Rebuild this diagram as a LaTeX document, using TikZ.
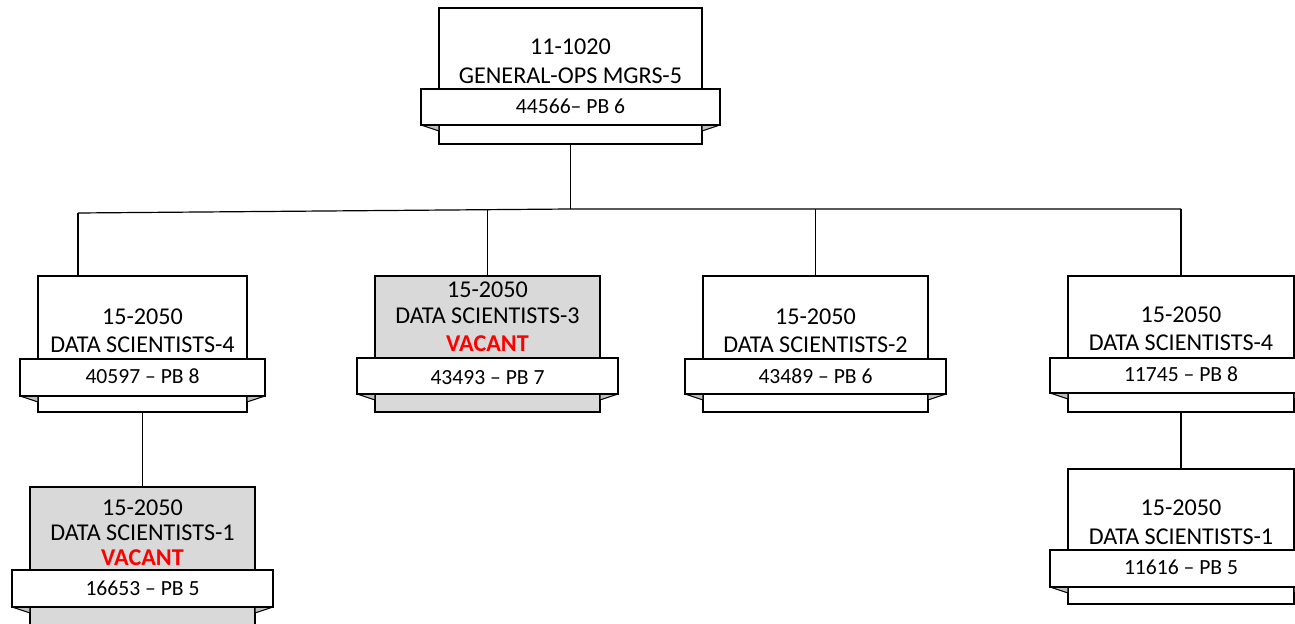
\documentclass[tikz,border=0pt]{standalone}
\usepackage{fontspec}
\setmainfont{Carlito}
\usetikzlibrary{fit}
\definecolor{boxgrey}{HTML}{D9D9D9}
\definecolor{foldgrey}{HTML}{BFBFBF}
\definecolor{vred}{HTML}{FF0000}
\tikzset{
 rectbox/.style={draw=black, line width=1.1pt, inner sep=0pt},
 ribbonbox/.style={draw=black, fill=white, line width=1.1pt, inner sep=0pt},
 foldtri/.style={draw=black, fill=foldgrey, line width=0.8pt, line join=round},
 maintxt/.style={font=\fontsize{18.1}{21}\selectfont, inner sep=0pt, anchor=base},
 ribtxt/.style={font=\fontsize{16.2}{19}\selectfont, inner sep=0pt, anchor=base},
 vactxt/.style={inner sep=0pt, anchor=base, font=\fontsize{18.1}{21}\selectfont\bfseries, text=vred},
 conn/.style={draw=black, line width=0.9pt},
}
% name, x1, y1, x2, y2, ribbon y1, ribbon y2, fill
\newcommand{\orgbox}[8]{%
 \node[rectbox, fill=#8, fit={(#2,#3) (#4,#5)}] (#1) {};
 \filldraw[foldtri] ({#2-18},#7) -- (#2,#7) -- (#2,{#7+6}) -- cycle;
 \filldraw[foldtri] ({#4+18},#7) -- (#4,#7) -- (#4,{#7+6}) -- cycle;
 \node[ribbonbox, fit={({#2-18},#6) ({#4+18},#7)}] (#1r) {};
}
\begin{document}
\begin{tikzpicture}[x=0.75pt, y=-0.75pt]
\useasboundingbox (0,0) rectangle (1295,624);
\clip (0,0) rectangle (1295,624);

\orgbox{top}{439}{8}{702}{144}{89}{125}{white}
\orgbox{b1}{38}{276}{247}{412}{359}{396}{white}
\orgbox{b2}{375}{276}{600}{412}{358}{394}{boxgrey}
\orgbox{b3}{703}{276}{928}{412}{359}{394}{white}
\orgbox{b4}{1068}{276}{1294}{412}{358}{393}{white}
\orgbox{b5}{30}{487}{255}{660}{570}{607}{boxgrey}
\orgbox{b6}{1068}{469}{1294}{604}{550}{587}{white}

% texts
\node[maintxt] (topa) at (570.5,54.7) {11-1020};
\node[maintxt] (topb) at (570.5,83.7) {GENERAL-OPS MGRS-5};
\node[ribtxt] (topc) at (570.5,113.9) {44566– PB 6};

\node[maintxt] (b1a) at (142.5,324.7) {15-2050};
\node[maintxt] (b1b) at (142.5,352.7) {DATA SCIENTISTS-4};
\node[ribtxt] (b1c) at (142.5,383.9) {40597 – PB 8};

\node[maintxt] (b2a) at (487.5,297.7) {15-2050};
\node[maintxt] (b2b) at (487.5,323.7) {DATA SCIENTISTS-3};
\node[vactxt] (b2v) at (487.5,351.7) {VACANT};
\node[ribtxt] (b2c) at (487.5,384.9) {43493 – PB 7};

\node[maintxt] (b3a) at (815.5,324.7) {15-2050};
\node[maintxt] (b3b) at (815.5,352.7) {DATA SCIENTISTS-2};
\node[ribtxt] (b3c) at (815.5,383.9) {43489 – PB 6};

\node[maintxt] (b4a) at (1181,322.7) {15-2050};
\node[maintxt] (b4b) at (1181,350.7) {DATA SCIENTISTS-4};
\node[ribtxt] (b4c) at (1181,381.9) {11745 – PB 8};

\node[maintxt] (b5a) at (142.5,515.7) {15-2050};
\node[maintxt] (b5b) at (142.5,540.7) {DATA SCIENTISTS-1};
\node[vactxt] (b5v) at (142.5,565.7) {VACANT};
\node[ribtxt] (b5c) at (142.5,595.9) {16653 – PB 5};

\node[maintxt] (b6a) at (1181,515.7) {15-2050};
\node[maintxt] (b6b) at (1181,544.7) {DATA SCIENTISTS-1};
\node[ribtxt] (b6c) at (1181,574.9) {11616 – PB 5};

% connectors
\coordinate (hub) at (570.5,209);
\coordinate (jl) at (78,213);
\coordinate (j2) at (487.5,209.7);
\draw[conn] (top.south) -- (hub);
\draw[conn] (jl) -- (hub) -- (hub -| b4.north);
\draw[conn] (jl) -- (jl |- b1.north);
\draw[conn] (j2) -- (b2.north);
\draw[conn] (b3.north |- hub) -- (b3.north);
\draw[conn] (b4.north |- hub) -- (b4.north);
\draw[conn] (b1.south) -- (b5.north);
\draw[conn] (b4.south) -- (b6.north);
\end{tikzpicture}
\end{document}
